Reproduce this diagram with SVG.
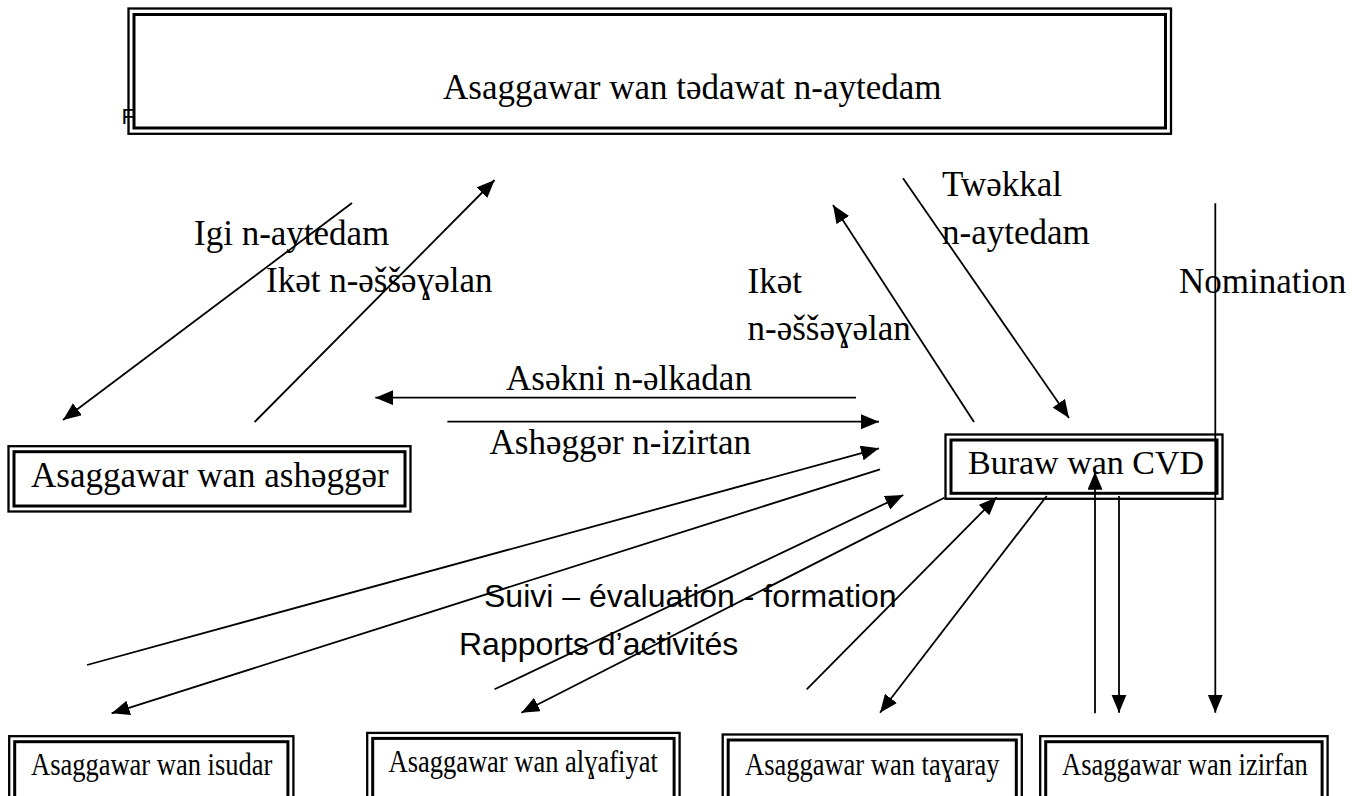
<svg xmlns="http://www.w3.org/2000/svg" width="1365" height="796" viewBox="0 0 1365 796">
<style>
.o{fill:none;stroke:#000;stroke-width:2.3}
.i{fill:#fff;stroke:#000;stroke-width:3}
.t{font-family:"Liberation Serif","Times New Roman",serif;font-size:35px;fill:#000}
.s{font-family:"Liberation Serif","Times New Roman",serif;font-size:26.5px;fill:#000}
.a{font-family:"Liberation Sans",Arial,sans-serif;font-size:32px;fill:#000}
.c line{stroke:#000;stroke-width:1.8}
</style>
<defs>
<marker id="ah" markerUnits="userSpaceOnUse" markerWidth="19" markerHeight="16" refX="18" refY="7.5" orient="auto">
<path d="M0,0 L18,7.5 L0,15 z" fill="#000"/>
</marker>
</defs>
<rect width="1365" height="796" fill="#fff"/>
<text x="121.5" y="123.5" style="font-family:'Liberation Sans',Arial,sans-serif;font-size:22px">F</text>
<g id="top">
<rect class="o" x="128.5" y="8.5" width="1042.5" height="125.3"/>
<rect class="i" x="134" y="14.5" width="1031.5" height="113.5"/>
<text class="t" x="443" y="99">Asaggawar wan tədawat n-aytedam</text>
</g>
<g id="ashegger">
<rect class="o" x="8.5" y="446.2" width="402" height="65.3"/>
<rect class="i" x="14" y="451.7" width="391" height="54.3"/>
<text class="t" x="31" y="487">Asaggawar wan ashəggər</text>
</g>
<g id="cvd">
<rect class="o" x="945.5" y="434.5" width="277" height="64.3"/>
<rect class="i" x="951" y="440" width="266" height="53.3"/>
<text class="t" x="968" y="474" style="font-size:34px">Buraw wan CVD</text>
</g>
<g id="isudar">
<rect class="o" x="9.2" y="736.2" width="284.2" height="80"/>
<rect class="i" x="14.7" y="741.7" width="273.2" height="80"/>
<text class="s" transform="translate(31,775) scale(1,1.2)">Asaggawar wan isudar</text>
</g>
<g id="alyafiyat">
<rect class="o" x="367.2" y="732.9" width="312.4" height="80"/>
<rect class="i" x="372.7" y="738.4" width="301.4" height="80"/>
<text class="s" transform="translate(388.5,772) scale(1,1.2)">Asaggawar wan alɣafiyat</text>
</g>
<g id="tayaray">
<rect class="o" x="722.7" y="734.5" width="299.1" height="80"/>
<rect class="i" x="728.2" y="740" width="288.1" height="80"/>
<text class="s" transform="translate(745,775) scale(1,1.2)">Asaggawar wan taɣaray</text>
</g>
<g id="izirfan">
<rect class="o" x="1040.2" y="736.2" width="287.4" height="80"/>
<rect class="i" x="1045.7" y="741.7" width="276.4" height="80"/>
<text class="s" transform="translate(1062,775) scale(1,1.2)">Asaggawar wan izirfan</text>
</g>
<g id="labels">
<text class="t" x="194" y="245">Igi n-aytedam</text>
<text class="t" x="266" y="291.5">Ikət n-əššəɣəlan</text>
<text class="t" x="942" y="196">Twəkkal</text>
<text class="t" x="942" y="243.5">n-aytedam</text>
<text class="t" x="747.5" y="293">Ikət</text>
<text class="t" x="747.5" y="340">n-əššəɣəlan</text>
<text class="t" x="1179" y="293">Nomination</text>
<text class="t" x="506" y="390">Asəkni n-əlkadan</text>
<text class="t" x="489.5" y="453.5">Ashəggər n-izirtan</text>
<text class="a" x="484" y="606.5">Suivi – évaluation - formation</text>
<text class="a" x="459" y="655">Rapports d’activités</text>
</g>
<g id="connectors" class="c">
<line x1="352" y1="203" x2="63" y2="420" marker-end="url(#ah)"/>
<line x1="254.6" y1="422" x2="494.6" y2="180" marker-end="url(#ah)"/>
<line x1="974" y1="422" x2="833" y2="205" marker-end="url(#ah)"/>
<line x1="903" y1="178.3" x2="1069" y2="418" marker-end="url(#ah)"/>
<line x1="856" y1="397.7" x2="375.3" y2="397.7" marker-end="url(#ah)"/>
<line x1="447.4" y1="421.7" x2="879" y2="421.7" marker-end="url(#ah)"/>
<line x1="87" y1="665" x2="879" y2="448.3" marker-end="url(#ah)"/>
<line x1="880" y1="469.3" x2="111.6" y2="713.3" marker-end="url(#ah)"/>
<line x1="494.6" y1="689.3" x2="903.3" y2="495" marker-end="url(#ah)"/>
<line x1="944.3" y1="497.7" x2="521.4" y2="712.7" marker-end="url(#ah)"/>
<line x1="806.7" y1="689.3" x2="996.7" y2="497.3" marker-end="url(#ah)"/>
<line x1="1046.7" y1="496" x2="880" y2="712.7" marker-end="url(#ah)"/>
<line x1="1095" y1="713.3" x2="1095" y2="471.7" marker-end="url(#ah)"/>
<line x1="1119" y1="496" x2="1119" y2="712.7" marker-end="url(#ah)"/>
<line x1="1215.3" y1="203.3" x2="1215.3" y2="712.7" marker-end="url(#ah)"/>
</g>
</svg>
